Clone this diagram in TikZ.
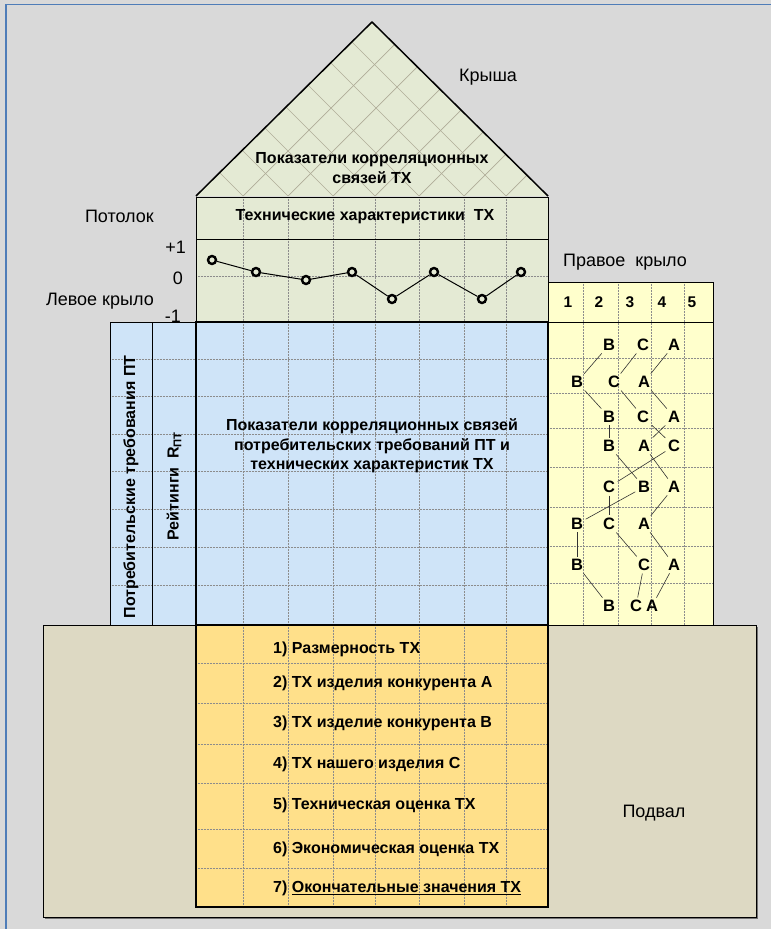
\documentclass[tikz,border=0pt]{standalone}
\usepackage{fontspec}
\setmainfont{Liberation Sans}

\definecolor{bgGray}{HTML}{D9D9D9}
\definecolor{frameBlue}{HTML}{4F7DB8}
\definecolor{roofGreen}{HTML}{E4EAD4}
\definecolor{latticeGray}{HTML}{B0AD98}
\definecolor{matrixBlue}{HTML}{CFE4F8}
\definecolor{wingYellow}{HTML}{FFFFCC}
\definecolor{cellarTan}{HTML}{DDD9C3}
\definecolor{cellarGold}{HTML}{FFE08A}

\tikzset{
  gridline/.style={black!45,densely dotted,line width=0.5pt},
  plain/.style={font=\fontsize{18}{21}\selectfont,inner sep=1pt},
  heading/.style={font=\bfseries\fontsize{16}{19.5}\selectfont,align=center,inner sep=1pt},
  itemtext/.style={font=\bfseries\fontsize{16}{18}\selectfont,anchor=west,inner sep=0pt},
  letter/.style={font=\bfseries\fontsize{16.5}{18}\selectfont,inner sep=2.5pt},
  link/.style={black!80,line width=0.6pt},
  pt/.style={circle,draw,line width=2.4pt,inner sep=0pt,minimum size=8pt},
}

\begin{document}
\begin{tikzpicture}[x=1pt,y=-1pt]
  \useasboundingbox (0,0) rectangle (771,929);
  \fill[bgGray] (0,0) rectangle (771,929);
  \draw[frameBlue,line width=1.5pt] (6,929) -- (6,4.5) -- (771,4.5);

  % roof
  \fill[roofGreen] (196,196) -- (372,22) -- (548,196) -- cycle;
  \begin{scope}
    \clip (196,196) -- (372,22) -- (548,196) -- cycle;
    \foreach \x in {196,243,288,333,375,419,464,506,548}
      \draw[latticeGray,line width=0.7pt] (\x-200,-4) -- (\x,196) -- (\x+200,-4);
  \end{scope}
  \draw[line width=1.5pt,line join=round] (196,196) -- (372,22) -- (548,196);

  % ceiling and graph
  \fill[roofGreen] (196,197) rectangle (548,322);
  \foreach \x in {243,288,333,375,419,464,506}
    \draw[gridline] (\x,197) -- (\x,322);
  \draw[gridline] (196,276) -- (548,276);
  \draw[line width=0.8pt] (196,197) rectangle (548,239);
  \draw[line width=0.8pt] (196,239) rectangle (548,322);

  % left wing
  \fill[matrixBlue] (110,322) rectangle (196,625);
  \foreach \y in {359,396,434,471,509,547,585}
    \draw[gridline] (110,\y) -- (196,\y);
  \draw[line width=1pt] (110,322) rectangle (152,625);
  \draw[line width=1pt] (152,322) rectangle (196,625);

  % right wing
  \fill[wingYellow] (548,282) rectangle (713,625);
  \foreach \x in {583,618,651,684}
    \draw[gridline] (\x,282) -- (\x,625);
  \foreach \y in {358,393,428,467,507,546,583}
    \draw[gridline] (548,\y) -- (713,\y);
  \draw[line width=1pt] (548,282) rectangle (713,322);
  \draw[line width=1pt] (548,322) rectangle (713,625);

  % cellar
  \fill[black!55] (44.5,626.5) rectangle (757.5,918.5);
  \filldraw[fill=cellarTan,line width=1pt] (43,625) rectangle (756,917);
  \fill[cellarGold] (196,625) rectangle (548,907);
  \foreach \x in {243,288,333,375,419,464,506}
    \draw[gridline] (\x,625) -- (\x,907);
  \foreach \y in {663,703,744,783,829,868}
    \draw[gridline] (196,\y) -- (548,\y);
  \draw[line width=1.5pt] (196,625) rectangle (548,907);

  % relationship matrix
  \fill[matrixBlue] (196,322) rectangle (548,625);
  \foreach \x in {243,288,333,375,419,464,506}
    \draw[gridline] (\x,322) -- (\x,625);
  \foreach \y in {359,396,434,471,509,547,585}
    \draw[gridline] (196,\y) -- (548,\y);
  \draw[line width=2pt] (196,322) rectangle (548,625);

  % texts
  \node[heading] (roofText) at (372,168) {Показатели корреляционных\\связей ТХ};
  \node[heading] (ceilText) at (365,217) {Технические характеристики\ \ ТХ};
  \node[heading] (corrText) at (372,446) {Показатели корреляционных связей\\потребительских требований ПТ и\\технических характеристик ТХ};
  \node[heading,rotate=90] (reqText) at (131,487) {Потребительские требования ПТ};
  \node[heading,rotate=90] (rateText) at (174,486) {Рейтинги\ \ R\textsubscript{ПТ}};

  \node[plain] (roofLbl) at (488,77) {Крыша};
  \node[plain,anchor=east] (ceilLbl) at (155,216) {Потолок};
  \node[plain,anchor=east] (leftLbl) at (155,301) {Левое крыло};
  \node[plain] (rightLbl) at (625,262) {Правое\ \ крыло};
  \node[plain] (cellarLbl) at (654,813) {Подвал};
  \node[plain,anchor=east] (plusOne) at (187,247) {+1};
  \node[plain,anchor=east] (zero) at (184,278) {0};
  \node[plain,anchor=east] (minusOne) at (182,316) {-1};

  % graph points
  \foreach \x/\y [count=\i] in {212/260,256/272,306/280,352/272,392/299,434/272,482/299,521/272}
    \node[pt] (p\i) at (\x,\y) {};
  \foreach \i [evaluate=\i as \j using int(\i+1)] in {1,...,7}
    \draw[line width=1pt] (p\i) -- (p\j);

  % right wing columns and letters
  \foreach \x/\n in {568/1,599/2,630/3,662/4,692/5}
    \node[letter,font=\bfseries\fontsize{15.5}{17}\selectfont] (col\n) at (\x,302) {\n};
  \foreach \y/\xb/\xc/\xa [count=\i] in {345/609/643/674,382/577/614/644,417/609/643/674,446/609/674/644,487/644/609/674,524/577/609/644,565/577/644/674,606/609/636/652}
  {
    \node[letter] (B\i) at (\xb,\y) {В};
    \node[letter] (C\i) at (\xc,\y) {С};
    \node[letter] (A\i) at (\xa,\y) {А};
  }
  \foreach \i [evaluate=\i as \j using int(\i+1)] in {1,...,7}
  {
    \draw[link] (B\i) -- (B\j);
    \draw[link] (C\i) -- (C\j);
    \draw[link] (A\i) -- (A\j);
  }

  % cellar list
  \foreach \y/\t [count=\i] in {649/{1) Размерность ТХ},683/{2) ТХ изделия конкурента А},723/{3) ТХ изделие конкурента В},764/{4) ТХ нашего изделия С},805/{5) Техническая оценка ТХ},849/{6) Экономическая оценка ТХ},888/{7) \underline{Окончательные значения ТХ}}}
    \node[itemtext] (item\i) at (273,\y) {\t};
\end{tikzpicture}
\end{document}
